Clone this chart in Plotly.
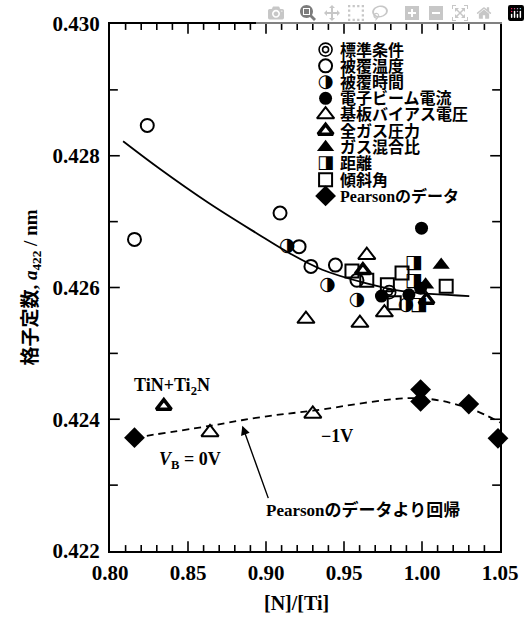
import plotly.graph_objects as go

# ---------------- data ----------------
std_x = [0.979]
std_y = [0.42593]
temp_x = [0.8157, 0.8239, 0.9090, 0.9212, 0.9288, 0.9445, 0.9583]
temp_y = [0.42673, 0.42846, 0.42713, 0.42662, 0.42632, 0.42634, 0.42611]
time_x = [0.9137, 0.9394, 0.9583, 0.9897]
time_y = [0.42662, 0.42604, 0.42580, 0.42573]
beam_x = [0.9997, 0.9740, 0.9991, 0.9916]
beam_y = [0.42690, 0.42587, 0.42599, 0.42589]
bias_x = [0.9646, 0.9759, 0.9256, 0.9602, 0.9300, 0.8641]
bias_y = [0.42649, 0.42562, 0.42552, 0.42546, 0.42408, 0.42380]
pres_x = [0.8345, 1.0029, 0.9621]
pres_y = [0.42420, 0.42581, 0.42626]
mix_x = [1.0123, 1.0023]
mix_y = [0.42634, 0.42604]
dist_x = [0.9947, 0.9947, 0.9979]
dist_y = [0.42637, 0.42610, 0.42573]
tilt_x = [0.9551, 0.9646, 0.9778, 0.9872, 0.9822, 1.0155]
tilt_y = [0.42625, 0.42611, 0.42604, 0.42622, 0.42577, 0.42602]
pearson_x = [0.8157, 0.9991, 0.9991, 1.0300, 1.0487]
pearson_y = [0.42372, 0.42445, 0.42427, 0.42423, 0.42371]
fit_x = [0.8084, 0.8314, 0.8628, 0.8942, 0.9151, 0.9361, 0.9633, 0.9884, 1.0303]
fit_y = [0.42822, 0.42781, 0.42729, 0.42682, 0.42652, 0.42627, 0.42607, 0.42594, 0.42587]
reg_x = [0.8157, 0.864, 0.896, 0.930, 0.998, 1.031, 1.050]
reg_y = [0.42372, 0.42390, 0.42403, 0.42413, 0.42432, 0.42416, 0.42395]

legend_names = ["標準条件", "被覆温度", "被覆時間", "電子ビーム電流", "基板バイアス電圧",
                "全ガス圧力", "ガス混合比", "距離", "傾斜角", "Pearsonのデータ"]

x_ticks = [0.80, 0.85, 0.90, 0.95, 1.00, 1.05]
y_ticks = [0.422, 0.424, 0.426, 0.428, 0.430]
x_minor_step = 0.01
y_minor_step = 0.001

# ---------------- styling / layout ----------------
SERIF = "Liberation Serif, Noto Sans CJK JP"
BLACK = "black"
W, H = 530, 623
plot_l, plot_r, plot_t, plot_b = 110, 508, 16, 551
X_RANGE = [0.80, 1.05]
Y_RANGE = [0.422, 0.430]
X_PER_PX = (X_RANGE[1] - X_RANGE[0]) / (plot_r - plot_l)
Y_PER_PX = (Y_RANGE[1] - Y_RANGE[0]) / (plot_b - plot_t)


def px_to_paper(px, py):
    return (px - plot_l) / (plot_r - plot_l), (plot_b - py) / (plot_b - plot_t)


def px_to_data(px, py):
    fx, fy = px_to_paper(px, py)
    return (X_RANGE[0] + fx * (X_RANGE[1] - X_RANGE[0]),
            Y_RANGE[0] + fy * (Y_RANGE[1] - Y_RANGE[0]))


def mk(symbol, size, fill=BLACK, lw=0):
    return dict(mode="markers",
                marker=dict(symbol=symbol, size=size, color=fill,
                            line=dict(color=BLACK, width=lw)))


styles = [
    [mk("circle-open", 13, lw=1.6), mk("circle-open", 6, lw=1.6)],
    [mk("circle-open", 13, lw=2)],
    ["◑"],
    [mk("circle", 13)],
    [mk("triangle-up-open", 15, lw=2)],
    [mk("triangle-up", 13, fill="white", lw=3.5)],
    [mk("triangle-up", 15)],
    ["◨"],
    [mk("square-open", 13, lw=2)],
    [mk("diamond", 16)],
]
series = [(std_x, std_y), (temp_x, temp_y), (time_x, time_y), (beam_x, beam_y),
          (bias_x, bias_y), (pres_x, pres_y), (mix_x, mix_y), (dist_x, dist_y),
          (tilt_x, tilt_y), (pearson_x, pearson_y)]

fig = go.Figure()

# ---- inward tick marks on all four sides, drawn as line segments at the axis values ----
MAJOR_LEN, MINOR_LEN = 10, 6
n_xm = int(round((X_RANGE[1] - X_RANGE[0]) / x_minor_step))
n_ym = int(round((Y_RANGE[1] - Y_RANGE[0]) / y_minor_step))
x_all = [round(X_RANGE[0] + k * x_minor_step, 4) for k in range(1, n_xm)]
y_all = [round(Y_RANGE[0] + k * y_minor_step, 5) for k in range(1, n_ym)]


def is_major(v, majors):
    return any(abs(v - m) < 1e-9 for m in majors)


tx, ty = [], []
for v in x_all:
    ln = (MAJOR_LEN if is_major(v, x_ticks) else MINOR_LEN) * Y_PER_PX
    tx += [v, v, None, v, v, None]
    ty += [Y_RANGE[0], Y_RANGE[0] + ln, None, Y_RANGE[1], Y_RANGE[1] - ln, None]
for v in y_all:
    ln = (MAJOR_LEN if is_major(v, y_ticks) else MINOR_LEN + 2) * X_PER_PX
    tx += [X_RANGE[0], X_RANGE[0] + ln, None, X_RANGE[1], X_RANGE[1] - ln, None]
    ty += [v, v, None, v, v, None]
fig.add_trace(go.Scatter(x=tx, y=ty, mode="lines", line=dict(color=BLACK, width=1.6),
                         showlegend=False, hoverinfo="skip", connectgaps=False))

# fitted curves
fig.add_trace(go.Scatter(x=fit_x, y=fit_y, mode="lines",
                         line=dict(color=BLACK, width=1.8, shape="spline", smoothing=1.0),
                         showlegend=False, hoverinfo="skip"))
fig.add_trace(go.Scatter(x=reg_x, y=reg_y, mode="lines",
                         line=dict(color=BLACK, width=1.8, shape="spline", dash="7px,5px"),
                         showlegend=False, hoverinfo="skip"))


def add_series(xs, ys, style_list, glyph_size=19):
    for st in style_list:
        if isinstance(st, str):
            fig.add_trace(go.Scatter(x=xs, y=ys, mode="text", text=[st] * len(xs),
                                     textposition="middle center",
                                     textfont=dict(family="DejaVu Sans", size=glyph_size, color=BLACK),
                                     showlegend=False, cliponaxis=False, hoverinfo="skip"))
        else:
            fig.add_trace(go.Scatter(x=xs, y=ys, showlegend=False, cliponaxis=False, **st))


for (xs, ys), st in zip(series, styles):
    add_series(xs, ys, st)

# hand-built legend (positions given in page pixels, converted to axis units)
leg_x_marker, leg_x_text, leg_y0, leg_step = 330, 343, 42, 16.5
for i, (name, st) in enumerate(zip(legend_names, styles)):
    lx, ly = px_to_data(leg_x_marker, leg_y0 + i * leg_step)
    add_series([lx], [ly], st, glyph_size=18)
    ax_, ay_ = px_to_data(leg_x_text, leg_y0 + i * leg_step)
    fig.add_annotation(x=ax_, y=ay_, text=name, showarrow=False,
                       xanchor="left", yanchor="middle",
                       font=dict(family=SERIF, size=16, color=BLACK, weight="bold"))

# text annotations in data space
ann_font = dict(family=SERIF, size=18, color=BLACK, weight="bold")
fig.add_annotation(x=0.8396, y=0.4245, text="TiN+Ti<sub>2</sub>N", showarrow=False, font=ann_font,
                   xanchor="center", yanchor="middle")
fig.add_annotation(x=0.8515, y=0.42338, text="<i>V</i><sub>B</sub> = 0V", showarrow=False, font=ann_font,
                   xanchor="center", yanchor="middle")
fig.add_annotation(x=0.9457, y=0.42375, text="−1V", showarrow=False, font=ann_font,
                   xanchor="center", yanchor="middle")
fig.add_annotation(x=0.8848, y=0.4239, ax=0.9018, ay=0.42278, axref="x", ayref="y",
                   text="", showarrow=True, arrowhead=2, arrowsize=1.3, arrowwidth=1.4,
                   arrowcolor=BLACK)
fig.add_annotation(x=0.962, y=0.42262, text="Pearsonのデータより回帰", showarrow=False,
                   xanchor="center", yanchor="middle",
                   font=dict(family=SERIF, size=17, color=BLACK, weight="bold"))

# axis titles (paper coordinates)
yt_x, yt_y = px_to_paper(30, 284)
fig.add_annotation(x=yt_x, y=yt_y, xref="paper", yref="paper",
                   text="格子定数, <i>a</i><sub>422</sub> / nm",
                   textangle=-90, showarrow=False, xanchor="center", yanchor="middle",
                   font=dict(family=SERIF, size=19, color=BLACK, weight="bold"))
xt_x, xt_y = px_to_paper(300, 604)
fig.add_annotation(x=xt_x, y=xt_y, xref="paper", yref="paper", text="[N]/[Ti]", showarrow=False,
                   xanchor="center", yanchor="middle",
                   font=dict(family=SERIF, size=20, color=BLACK, weight="bold"))

tick_font = dict(family=SERIF, size=21, color=BLACK, weight="bold")
fig.update_layout(
    width=W, height=H,
    margin=dict(l=plot_l, r=W - plot_r, t=plot_t, b=H - plot_b, pad=0),
    paper_bgcolor="white", plot_bgcolor="white",
    showlegend=False,
    xaxis=dict(range=X_RANGE, tickvals=x_ticks, ticktext=[f"{v:.2f}" for v in x_ticks],
               ticks="", showline=True, linecolor=BLACK, linewidth=2, mirror=True,
               showgrid=False, zeroline=False, tickfont=tick_font, ticklabelstandoff=2),
    yaxis=dict(range=Y_RANGE, tickvals=y_ticks, ticktext=[f"{v:.3f}" for v in y_ticks],
               ticks="", showline=True, linecolor=BLACK, linewidth=2, mirror=True,
               showgrid=False, zeroline=False, tickfont=tick_font, ticklabelstandoff=4),
)

fig.write_html("out.html", post_script="document.body.style.margin='0';")
